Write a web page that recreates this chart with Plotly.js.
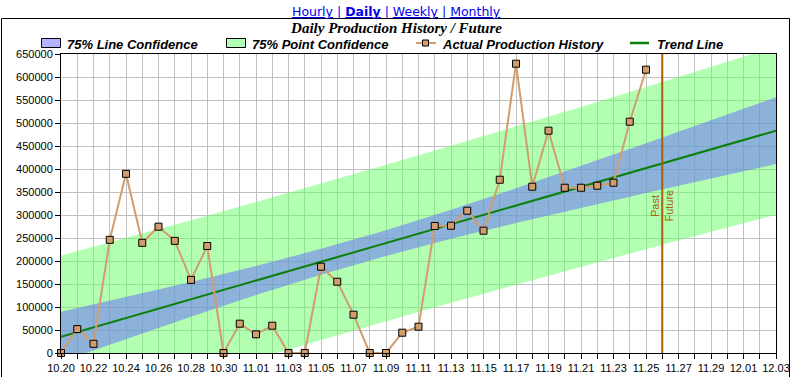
<!DOCTYPE html>
<html>
<head>
<meta charset="utf-8">
<script src="https://cdn.plot.ly/plotly-3.0.1.min.js"></script>
<style>
html,body{margin:0;padding:0;background:#ffffff;}
#chart{width:793px;height:377px;}
</style>
</head>
<body>
<div id="chart"></div>
<script>
// ---- data ----
const historyDates = [
  '2008-10-20','2008-10-21','2008-10-22','2008-10-23','2008-10-24','2008-10-25','2008-10-26',
  '2008-10-27','2008-10-28','2008-10-29','2008-10-30','2008-10-31','2008-11-01','2008-11-02',
  '2008-11-03','2008-11-04','2008-11-05','2008-11-06','2008-11-07','2008-11-08','2008-11-09',
  '2008-11-10','2008-11-11','2008-11-12','2008-11-13','2008-11-14','2008-11-15','2008-11-16',
  '2008-11-17','2008-11-18','2008-11-19','2008-11-20','2008-11-21','2008-11-22','2008-11-23',
  '2008-11-24','2008-11-25'
];
const historyValues = [
  0, 52000, 20000, 246000, 389500, 239500, 274600,
  243800, 159000, 232600, 0, 63700, 40600, 59400,
  0, 0, 187600, 155000, 83300, 0, 0,
  44100, 57200, 276100, 276700, 309300, 265900, 376700,
  628900, 361500, 483300, 359300, 359300, 363700, 370200,
  502800, 615900
];

const trendDates = ['2008-10-20', '2008-12-03'];
const trendValues = [35400, 483300];

const bandDates = [
  '2008-10-20','2008-10-24','2008-10-28','2008-11-01','2008-11-05','2008-11-09',
  '2008-11-13','2008-11-17','2008-11-21','2008-11-25','2008-11-29','2008-12-03'
];
const lineConfUpper  = [89500, 121600, 154600, 189200, 226400, 267100, 311300, 358200, 406700, 456000, 505800, 555900];
const lineConfLower  = [-18700, 30600, 79000, 126000, 170200, 210900, 248100, 282600, 315700, 347800, 379400, 410700];
const pointConfUpper = [211700, 249900, 288800, 328300, 368400, 409100, 450400, 492400, 535000, 578200, 621900, 666100];
const pointConfLower = [-140900, -97700, -55200, -13100, 28200, 68900, 109000, 148400, 187400, 225700, 263400, 300500];

const dividerDate = '2008-11-26';
const xRange = ['2008-10-20', '2008-12-03'];
const yRange = [0, 650000];

const seriesNames = ['75% Line Confidence', '75% Point Confidence', 'Actual Production History', 'Trend Line'];
const navLinks = ['Hourly', 'Daily', 'Weekly', 'Monthly'];
const navActive = 'Daily';
const chartTitle = 'Daily Production History / Future';
const dividerLabels = ['Past', 'Future'];

// ---- styles ----
const GREEN_FILL = 'rgba(102,255,102,0.5)';
const BLUE_FILL = 'rgba(102,102,255,0.5)';
const HIST_COLOR = '#d39c6c';
const TREND_COLOR = '#0a800a';
const DIVIDER_COLOR = '#a5600a';
const GRID = '#c0c0c0';
const SANS = '"Liberation Sans", Arial, sans-serif';

const traces = [
  // point confidence band (green)
  {x: bandDates, y: pointConfLower, type: 'scatter', mode: 'lines', line: {width: 0, color: 'rgba(0,0,0,0)'},
   showlegend: false, hoverinfo: 'skip'},
  {x: bandDates, y: pointConfUpper, type: 'scatter', mode: 'lines', fill: 'tonexty', fillcolor: GREEN_FILL,
   line: {width: 0, color: 'rgba(0,0,0,0)'}, name: seriesNames[1], showlegend: false, hoverinfo: 'skip'},
  // line confidence band (blue)
  {x: bandDates, y: lineConfLower, type: 'scatter', mode: 'lines', line: {width: 0, color: 'rgba(0,0,0,0)'},
   showlegend: false, hoverinfo: 'skip'},
  {x: bandDates, y: lineConfUpper, type: 'scatter', mode: 'lines', fill: 'tonexty', fillcolor: BLUE_FILL,
   line: {width: 0, color: 'rgba(0,0,0,0)'}, name: seriesNames[0], showlegend: false, hoverinfo: 'skip'},
  // trend
  {x: trendDates, y: trendValues, type: 'scatter', mode: 'lines', name: seriesNames[3], showlegend: false,
   line: {color: TREND_COLOR, width: 2}},
  // history
  {x: historyDates, y: historyValues, type: 'scatter', mode: 'lines+markers', name: seriesNames[2], showlegend: false,
   line: {color: HIST_COLOR, width: 2}, cliponaxis: false,
   marker: {symbol: 'square', size: 7, color: HIST_COLOR, line: {color: '#000', width: 1}}}
];

const navText = navLinks.map(function (n) {
  const t = '<u>' + n + '</u>';
  return n === navActive ? '<b>' + t + '</b>' : t;
}).join(' | ');

// pixel -> paper helpers (plot area: x 61..776, y 54..353)
function px(x) { return (x - 61) / 715; }
function py(y) { return 1 + (54 - y) / 299; }

// hand-drawn legend (swatch / symbol geometry, label start)
const legendFont = {family: SANS, size: 13, weight: 'bold', style: 'italic', color: '#000'};
const legendY = 44;
const legendShapes = [
  {type: 'rect', xref: 'paper', yref: 'paper', x0: px(41.5), x1: px(60.5), y0: py(47.5), y1: py(38.5),
   fillcolor: '#b3b3ff', line: {color: '#000', width: 1}},
  {type: 'rect', xref: 'paper', yref: 'paper', x0: px(226.5), x1: px(245.5), y0: py(47.5), y1: py(38.5),
   fillcolor: '#b3ffb3', line: {color: '#000', width: 1}},
  {type: 'line', xref: 'paper', yref: 'paper', x0: px(416), x1: px(436), y0: py(43), y1: py(43),
   line: {color: HIST_COLOR, width: 2}},
  {type: 'rect', xref: 'paper', yref: 'paper', x0: px(422.5), x1: px(428.5), y0: py(46), y1: py(40),
   fillcolor: HIST_COLOR, line: {color: '#000', width: 1}},
  {type: 'line', xref: 'paper', yref: 'paper', x0: px(630), x1: px(649), y0: py(43), y1: py(43),
   line: {color: TREND_COLOR, width: 2.5}}
];
const legendTextX = [64.5, 249.5, 439.5, 654.5];
const legendAnnotations = seriesNames.map(function (name, i) {
  return {text: name, xref: 'paper', yref: 'paper', x: px(legendTextX[i]), y: py(legendY),
          xanchor: 'left', yanchor: 'middle', showarrow: false, font: legendFont};
});

const layout = {
  width: 793, height: 377,
  margin: {l: 61, r: 17, t: 54, b: 24, pad: 0},
  paper_bgcolor: '#ffffff', plot_bgcolor: '#ffffff',
  font: {family: SANS, size: 11, color: '#000'},
  title: {
    text: '<b><i>' + chartTitle + '</i></b>',
    font: {family: '"Liberation Serif", "Times New Roman", serif', size: 15, color: '#000'},
    xref: 'container', x: 0.5, xanchor: 'center',
    yref: 'container', y: 1 - 28 / 377, yanchor: 'middle', pad: {t: 0, b: 0, l: 0, r: 0}
  },
  showlegend: false,
  xaxis: {
    type: 'date', range: xRange, tick0: xRange[0], dtick: 2 * 86400000, tickformat: '%m.%d',
    ticks: 'outside', ticklen: 5, tickcolor: '#000', tickwidth: 1,
    showgrid: true, gridcolor: GRID, gridwidth: 1,
    showline: true, linecolor: '#000', linewidth: 1, mirror: true, zeroline: false,
    minor: {tick0: xRange[0], dtick: 86400000, ticks: 'outside', ticklen: 5, tickcolor: '#000',
            showgrid: true, gridcolor: GRID, gridwidth: 1},
    tickfont: {family: SANS, size: 11, color: '#000'}, fixedrange: true
  },
  yaxis: {
    range: yRange, dtick: 50000, tickformat: 'd',
    ticks: 'outside', ticklen: 5, tickcolor: '#000', tickwidth: 1,
    showgrid: true, gridcolor: GRID, gridwidth: 1,
    showline: true, linecolor: '#000', linewidth: 1, mirror: true, zeroline: false,
    tickfont: {family: SANS, size: 11, color: '#000'}, fixedrange: true
  },
  shapes: [
    {type: 'line', xref: 'x', yref: 'paper', x0: dividerDate, x1: dividerDate, y0: 0, y1: 1,
     line: {color: DIVIDER_COLOR, width: 2}},
    {type: 'rect', xref: 'paper', yref: 'paper', x0: px(1.5), x1: px(789.5),
     y0: -0.2, y1: py(18.5), line: {color: '#000', width: 1}, fillcolor: 'rgba(0,0,0,0)', layer: 'below'}
  ].concat(legendShapes),
  annotations: [
    {text: navText, xref: 'paper', yref: 'paper', x: px(396.5), y: py(11),
     xanchor: 'center', yanchor: 'middle', showarrow: false,
     font: {family: '"DejaVu Sans", Verdana, sans-serif', size: 12.5, color: '#0000ee'}},
    {text: dividerLabels[0], xref: 'x', yref: 'y', x: dividerDate, y: 320000, xshift: -7,
     textangle: -90, showarrow: false, xanchor: 'center', yanchor: 'middle',
     font: {family: SANS, size: 11, color: DIVIDER_COLOR}},
    {text: dividerLabels[1], xref: 'x', yref: 'y', x: dividerDate, y: 320000, xshift: 6.5,
     textangle: -90, showarrow: false, xanchor: 'center', yanchor: 'middle',
     font: {family: SANS, size: 11, color: DIVIDER_COLOR}}
  ].concat(legendAnnotations)
};

Plotly.newPlot('chart', traces, layout, {displayModeBar: false, responsive: false});
</script>
</body>
</html>
